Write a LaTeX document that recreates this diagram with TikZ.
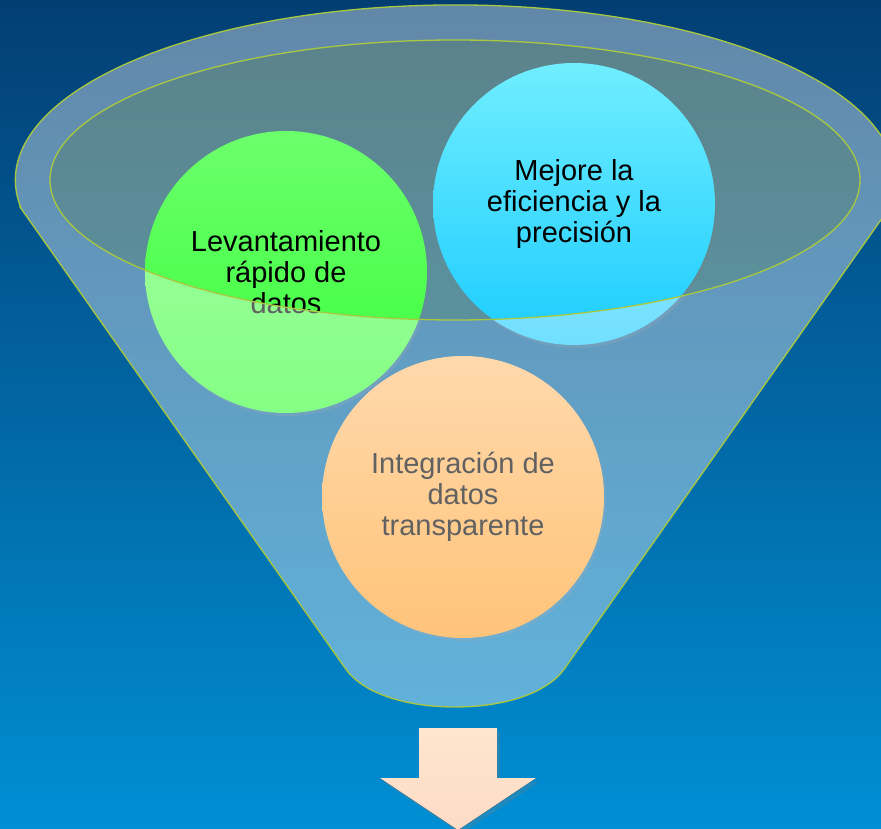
\documentclass[tikz,border=0pt]{standalone}
\usepackage{fontspec}
\setmainfont{Liberation Sans}
\usetikzlibrary{
  shadows,
  backgrounds
}
\definecolor{bgtop}{RGB}{3,62,115}
\definecolor{bgbottom}{RGB}{0,143,212}
\definecolor{rimline}{RGB}{168,200,64}
\definecolor{mouthfill}{RGB}{200,210,165}
\definecolor{greentop}{RGB}{108,255,108}
\definecolor{greenbot}{RGB}{58,255,58}
\definecolor{cyantop}{RGB}{112,238,255}
\definecolor{cyanbot}{RGB}{28,204,255}
\definecolor{orangetop}{RGB}{255,194,122}
\definecolor{orangebot}{RGB}{255,160,40}
\definecolor{arrowtop}{RGB}{255,230,206}
\definecolor{arrowbot}{RGB}{253,219,198}
\tikzset{
  bubble/.style={
    circle,
    minimum size=282pt,
    inner sep=0pt,
    align=center,
    font=\fontsize{29}{31}\selectfont,
    drop shadow={shadow xshift=2pt, shadow yshift=-3pt, opacity=0.2},
  },
  rapidbubble/.style={
    bubble,
    top color=greentop,
    bottom color=greenbot,
  },
  efficbubble/.style={
    bubble,
    top color=cyantop,
    bottom color=cyanbot,
  },
  integbubble/.style={
    bubble,
    top color=orangetop,
    bottom color=orangebot,
  },
  funnelveil/.style={
    fill=white,
    fill opacity=0.38,
    even odd rule,
  },
  rim/.style={
    draw=rimline,
    line width=1.3pt,
  },
  downarrow/.style={
    top color=arrowtop,
    bottom color=arrowbot,
    drop shadow={shadow xshift=3pt, shadow yshift=-4pt, opacity=0.25},
  },
}
\newcommand{\funnelpath}{(20,207) -- (345,668)
  .. controls (362,693) and (405,707) .. (455,707)
  .. controls (505,707) and (548,693) .. (565,668)
  -- (890,207) arc[start angle=-8.9, end angle=188.9, x radius=440pt, y radius=175pt] -- cycle}
\newcommand{\mouthpath}{(455,180) ellipse [x radius=405pt, y radius=140pt]}

\begin{document}
\begin{tikzpicture}[x=1pt, y=-1pt]
		\clip (0,0) rectangle (881,829);
		\shade[top color=bgtop, bottom color=bgbottom] (0,0) rectangle (881,829);

		% mouth of the funnel
		\fill[mouthfill, fill opacity=0.45] \mouthpath;

		% circles
		\node[rapidbubble] (rapid) at (286,272) {Levantamiento\\r\'apido de\\datos};
		\node[efficbubble] (effic) at (574,204) {Mejore la\\eficiencia y la\\precisi\'on};
		\node[integbubble] (integ) at (463,497) {Integraci\'on de\\datos\\transparente};

		% funnel body over the circles
		\fill[funnelveil] \funnelpath \mouthpath;
		\draw[rim] \funnelpath;
		\draw[rim] \mouthpath;

		% arrow out of the funnel
		\fill[downarrow] (419,728) -- (497,728) -- (497,778) -- (536,778) -- (458,830)
			-- (380,778) -- (419,778) -- cycle;
	\end{tikzpicture}
\end{document}
